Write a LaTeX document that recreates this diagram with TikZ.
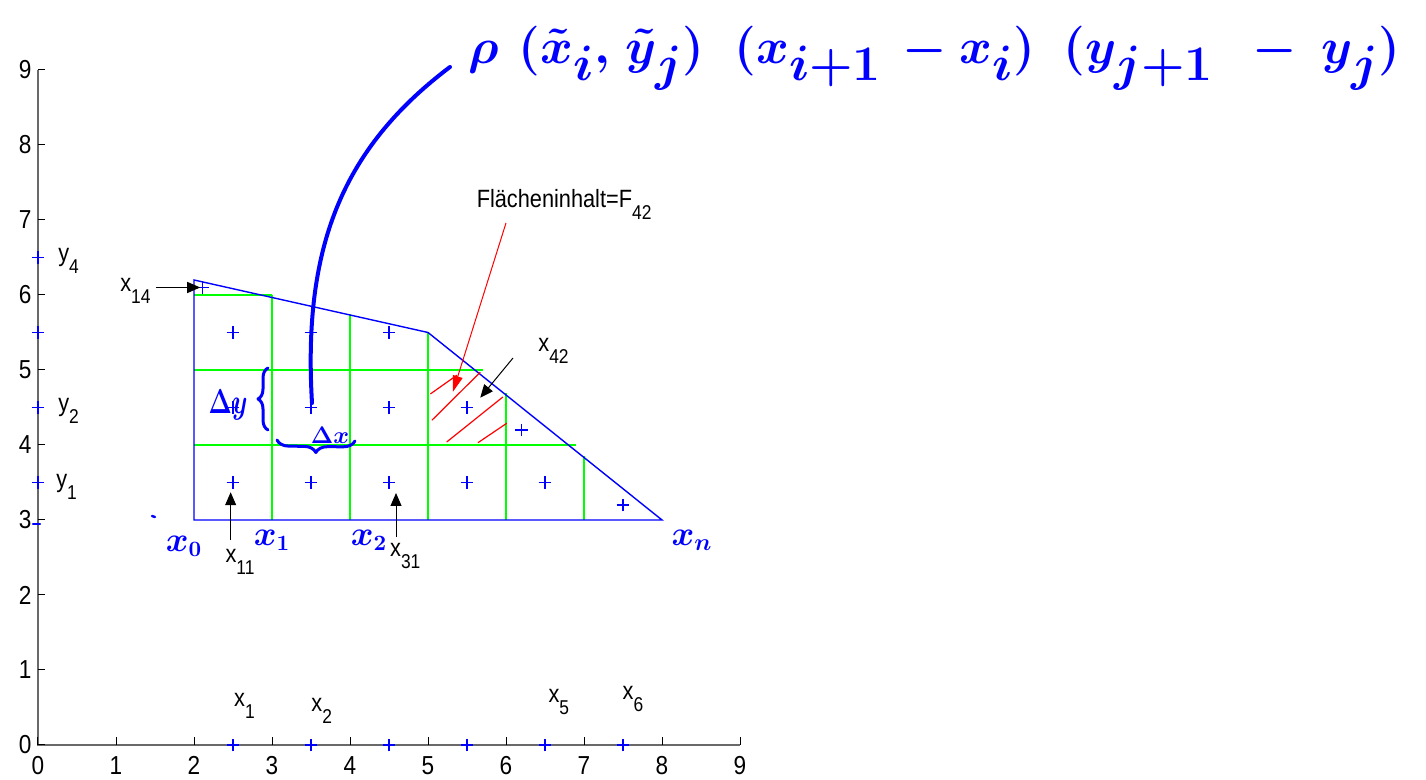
\documentclass[tikz,border=0pt]{standalone}
\usepackage{fontspec}
\setmainfont{Liberation Sans}[FakeStretch=0.87]
\usetikzlibrary{arrows.meta,decorations.pathreplacing}
\definecolor{axgray}{RGB}{105,105,105}
\definecolor{pblue}{RGB}{0,0,255}
\definecolor{pgreen}{RGB}{0,255,0}
\definecolor{pred}{RGB}{255,0,0}
\newcommand{\lbsub}[2]{#1\raisebox{-6pt}{\fontsize{10}{10}\selectfont #2}}
\tikzset{
  axisline/.style={axgray, line width=0.8pt},
  tickmark/.style={black, line width=0.5pt},
  ticklabel/.style={font=\fontsize{13}{14}\selectfont, inner sep=0pt},
  lbl/.style={font=\fontsize{12.5}{13}\selectfont, inner sep=0pt, anchor=base west},
  cell/.style={pgreen, line width=0.7pt},
  region/.style={pblue, line width=0.7pt},
  hatch/.style={pred, line width=0.6pt},
  pmark/.pic={\draw[pblue, line width=0.6pt] (-3.2pt,0)--(3.2pt,0) (0,-3.2pt)--(0,3.2pt);},
  ptr/.style={-{Triangle[length=6.5pt,width=5.5pt]}, black, line width=0.5pt},
  redptr/.style={-{Triangle[length=8pt,width=5pt]}, pred, line width=0.5pt},
  hand/.style={pblue, line width=2pt, line cap=round, line join=round},
  handtext/.style={pblue, inner sep=0pt},
}
\begin{document}
\begin{tikzpicture}[x=39pt, y=37.5pt]
\useasboundingbox (-19pt,-17.5pt) rectangle (694pt,372.5pt);
% axes
\draw[axisline] (0,9) coordinate (ytop) -- (0,0) coordinate (orig) -- (9,0) coordinate (xend);
\foreach \k in {0,...,9} {
  \draw[tickmark] (\k,0) -- ++(0,4pt);
  \draw[tickmark] (0,\k) -- ++(3.5pt,0);
  \node[ticklabel, anchor=north] (xt\k) at (\k,-0.15) {\k};
  \node[ticklabel, anchor=east] (yt\k) at (-0.08,\k) {\k};
}
% marks on axes
\foreach \v in {3.5,4.5,5.5,6.5} \pic at (0,\v) {pmark};
\foreach \v in {2.5,3.5,4.5,5.5,6.5,7.5} \pic at (\v,0) {pmark};
\node[lbl] (ly4) at (0.256,6.45) {\lbsub{y}{4}};
\node[lbl] (ly2) at (0.256,4.44) {\lbsub{y}{2}};
\node[lbl] (ly1) at (0.23,3.43) {\lbsub{y}{1}};
\node[lbl] (lx1) at (2.51,0.51) {\lbsub{x}{1}};
\node[lbl] (lx2) at (3.50,0.44) {\lbsub{x}{2}};
\node[lbl] (lx5) at (6.54,0.56) {\lbsub{x}{5}};
\node[lbl] (lx6) at (7.49,0.60) {\lbsub{x}{6}};
% green grid
\draw[cell] (2,6) -- (3,6);
\draw[cell] (2,5) -- (5.7,5);
\draw[cell] (2,4) -- (6.9,4);
\draw[cell] (3,3) -- (3,6);
\draw[cell] (4,3) -- (4,5.75);
\draw[cell] (5,3) -- (5,5.5);
\draw[cell] (6,3) -- (6,4.69);
\draw[cell] (7,3) -- (7,3.85);
% region
\draw[region] (2,3) coordinate (pa) -- (2,6.2) coordinate (pb) -- (5,5.5) coordinate (pc) -- (8,3) coordinate (pd) -- cycle;
% hatch
\draw[hatch] (5.03,4.68) -- (5.37,4.93);
\draw[hatch] (5.05,4.33) -- (5.67,4.97);
\draw[hatch] (5.24,4.04) -- (5.96,4.64);
\draw[hatch] (5.64,4.03) -- (6.01,4.29);
% sample points
\foreach \p in {(2.5,5.5),(3.5,5.5),(4.5,5.5),(2.5,4.5),(3.5,4.5),(4.5,4.5),(5.5,4.5),(6.2,4.2),(2.5,3.5),(3.5,3.5),(4.5,3.5),(5.5,3.5),(6.5,3.5),(7.5,3.2),(2.11,6.1)}
  \pic at \p {pmark};
% labels with arrows
\node[lbl] (x14) at (1.05,6.04) {\lbsub{x}{14}};
\coordinate (x14tail) at (1.51,6.1);
\coordinate (x14tip) at (2.08,6.1);
\draw[ptr] (x14tail) -- (x14tip);
\node[lbl] (x11) at (2.40,2.43) {\lbsub{x}{11}};
\coordinate (x11tail) at (2.47,2.73);
\coordinate (x11tip) at (2.47,3.37);
\draw[ptr] (x11tail) -- (x11tip);
\node[lbl] (x31) at (4.51,2.51) {\lbsub{x}{31}};
\coordinate (x31tail) at (4.59,2.77);
\coordinate (x31tip) at (4.59,3.36);
\draw[ptr] (x31tail) -- (x31tip);
\node[lbl] (x42) at (6.41,5.24) {\lbsub{x}{42}};
\coordinate (x42tail) at (6.09,5.16);
\coordinate (x42tip) at (5.67,4.63);
\draw[ptr] (x42tail) -- (x42tip);
\node[lbl] (area) at (5.62,7.16) {Flächeninhalt=\lbsub{F}{42}};
\coordinate (areatail) at (6.0,6.96);
\coordinate (areatip) at (5.32,4.71);
\draw[redptr] (areatail) -- (areatip);
% handwriting (pixel coordinates)
\begin{scope}[shift={(-19pt,372.5pt)}, x=0.5pt, y=-0.5pt]
  \coordinate (cstart) at (312,403);
  \coordinate (cend) at (450,67);
  \draw[hand] (cstart) .. controls (303,250) and (340,150) .. (cend);
  \node[handtext, font=\fontsize{34}{40}\selectfont\boldmath, anchor=west] (formula) at (468,58)
    {$\rho\hspace{10pt}(\tilde{x}_i,\hspace{3pt}\tilde{y}_j)\hspace{15pt}(x_{i+1}\hspace{4pt}-\hspace{0pt}x_i)\hspace{14pt}(y_{j+1}\hspace{13pt}-\hspace{6pt}y_j)$};
  \node[handtext, font=\fontsize{17}{20}\selectfont\boldmath] (dy) at (228,405) {\scalebox{0.72}[1]{$\Delta y$}};
  \draw[hand, line width=1.5pt, decorate, decoration={brace, amplitude=5pt}] (268,430) -- (268,368);
  \node[handtext, font=\fontsize{12}{14}\selectfont\boldmath] (dx) at (330,435) {$\Delta x$};
  \draw[hand, line width=1.5pt, decorate, decoration={brace, amplitude=6pt}] (355,441) -- (277,440);
  \node[handtext, font=\fontsize{16}{20}\selectfont\boldmath] (hx0) at (184,546) {$x_0$};
  \node[handtext, font=\fontsize{16}{20}\selectfont\boldmath] (hx1) at (272,540) {$x_1$};
  \node[handtext, font=\fontsize{16}{20}\selectfont\boldmath] (hx2) at (369,540) {$x_2$};
  \node[handtext, font=\fontsize{18}{22}\selectfont\boldmath] (hxn) at (692,540) {$x_n$};
  \draw[hand, line width=1.2pt] (33,524) -- (40,524);
  \draw[hand, line width=1.2pt] (152,516) -- (155,517);
\end{scope}
\end{tikzpicture}
\end{document}
